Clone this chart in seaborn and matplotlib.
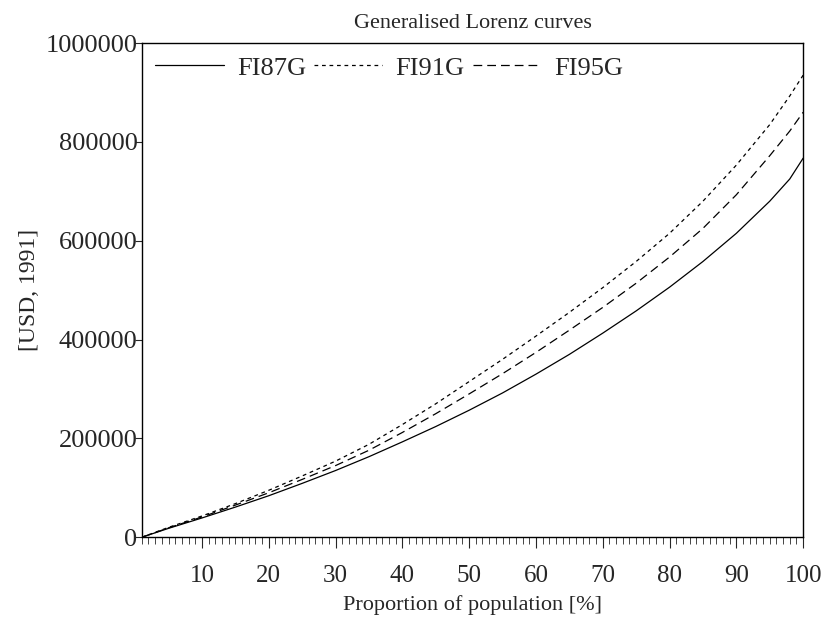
import numpy as np
import pandas as pd
import seaborn as sns
import matplotlib.pyplot as plt
from matplotlib.ticker import MultipleLocator, StrMethodFormatter

# proportion of population [%]
pop = [1, 5, 10, 15, 20, 25, 30, 35, 40, 45, 50, 55, 60, 65, 70, 75, 80, 85, 90, 95, 98, 100]
# generalised Lorenz ordinates, USD 1991
fi87g = [0, 18000, 39000, 61000, 84000, 109000, 135000, 163000, 193000, 224000, 257000,
         292000, 330000, 370000, 413000, 458000, 506000, 558000, 615000, 680000, 725000, 767000]
fi91g = [0, 20000, 43000, 68000, 95000, 124000, 154000, 188000, 228000, 270000, 315000,
         360000, 407000, 455000, 505000, 558000, 615000, 680000, 753000, 835000, 893000, 935000]
fi95g = [0, 19000, 41000, 65000, 90000, 117000, 145000, 176000, 212000, 250000, 290000,
         331000, 374000, 419000, 465000, 514000, 567000, 625000, 693000, 772000, 822000, 860000]

series = ["FI87G", "FI91G", "FI95G"]
df = pd.DataFrame({
    "pop": pop * 3,
    "value": fi87g + fi91g + fi95g,
    "series": np.repeat(series, len(pop)),
})

sns.set_style("ticks")
plt.rcParams['font.family'] = ['Liberation Serif', 'DejaVu Serif']

fig = plt.figure(figsize=(8.34, 6.24), dpi=100)
ax = fig.add_axes([0.170, 0.139, 0.793, 0.792])

sns.lineplot(data=df, x="pop", y="value", style="series", style_order=series,
             dashes={"FI87G": "", "FI91G": (3, 3), "FI95G": (7, 4)},
             color="black", linewidth=0.9, ax=ax)

ax.set_xlim(1, 100)
ax.set_ylim(0, 1000000)
ax.xaxis.set_major_locator(MultipleLocator(10))
ax.xaxis.set_minor_locator(MultipleLocator(1))
ax.yaxis.set_major_locator(MultipleLocator(200000))
ax.yaxis.set_major_formatter(StrMethodFormatter("{x:.0f}"))
ax.tick_params(axis="x", which="major", length=8, width=0.8, labelsize=18, pad=12)
ax.tick_params(axis="x", which="minor", length=5, width=0.6)
ax.tick_params(axis="y", which="major", length=5, width=0.8, labelsize=19, pad=-2)
for s in ax.spines.values():
    s.set_linewidth(1.0)
    s.set_color("black")
    s.set_visible(True)

ax.set_xlabel("Proportion of population [%]", fontsize=16, labelpad=6)
ax.set_ylabel("[USD, 1991]", fontsize=17, labelpad=4)
ax.set_title("Generalised Lorenz curves", fontsize=16, pad=11)

ax.legend(loc="upper left", ncol=3, frameon=False, fontsize=19, handlelength=2.6,
          handletextpad=0.5, columnspacing=0.3, borderaxespad=0.1, title=None)

fig.savefig("out.png", dpi=100)
